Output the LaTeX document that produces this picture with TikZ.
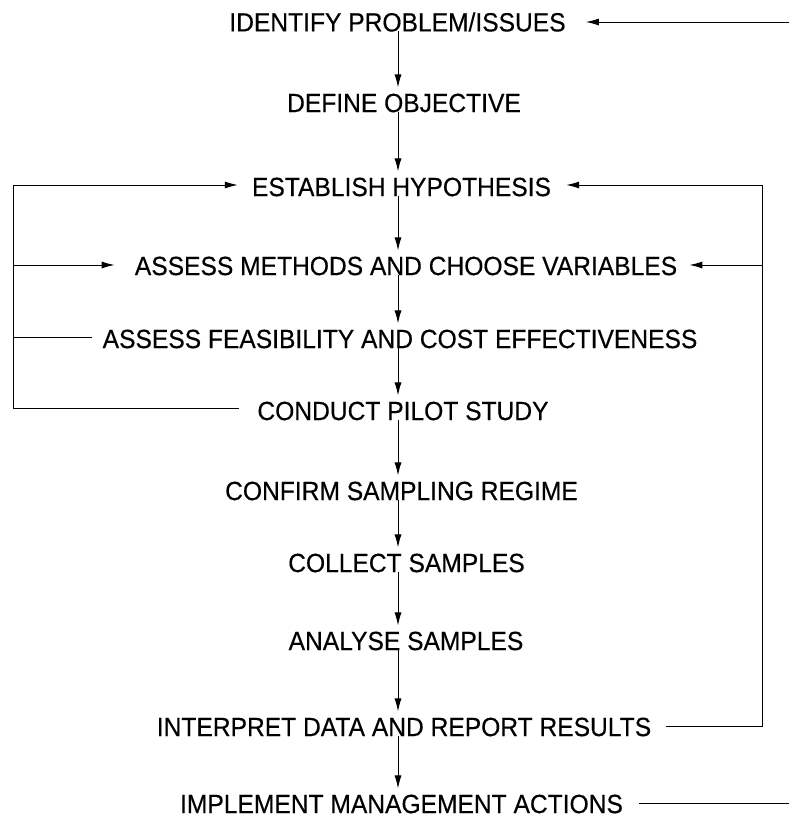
\documentclass[tikz,border=0pt]{standalone}
\usepackage{fontspec}
\setmainfont{Liberation Sans}
\newfontfamily\labelfont[FakeBold=0.4]{Liberation Sans}
\usetikzlibrary{arrows.meta}
\newcommand{\tallT}[1]{\scalebox{1}[1.07]{#1}}
\begin{document}
\begin{tikzpicture}[x=1pt,y=-1pt,
  lbl/.style={inner sep=0pt,font=\labelfont\fontsize{24.6}{28}\selectfont},
  arr/.style={-{Latex[length=13pt,width=7pt]},line width=1pt},
  ln/.style={line width=1pt}]
\useasboundingbox (0,0) rectangle (789,819);
\node[lbl] (n1) at (397.5,22) {\tallT{IDENTIFY PROBLEM/ISSUES}};
\node[lbl] (n2) at (404,103) {\tallT{DEFINE OBJECTIVE}};
\node[lbl] (n3) at (401.5,187) {\tallT{ESTABLISH HYPOTHESIS}};
\node[lbl] (n4) at (406,266) {\tallT{ASSESS METHODS AND CHOOSE VARIABLES}};
\node[lbl] (n5) at (400,339) {\tallT{ASSESS FEASIBILITY AND COST EFFECTIVENESS}};
\node[lbl] (n6) at (403,411) {\tallT{CONDUCT PILOT STUDY}};
\node[lbl] (n7) at (401.5,491) {\tallT{CONFIRM SAMPLING REGIME}};
\node[lbl] (n8) at (406.5,563) {\tallT{COLLECT SAMPLES}};
\node[lbl] (n9) at (406,641) {\tallT{ANALYSE SAMPLES}};
\node[lbl] (n10) at (404,727) {\tallT{INTERPRET DATA AND REPORT RESULTS}};
\node[lbl] (n11) at (401.5,804) {\tallT{IMPLEMENT MANAGEMENT ACTIONS}};
% main vertical chain
\foreach \a/\b in {n1/n2,n2/n3,n3/n4,n4/n5,n5/n6,n6/n7,n7/n8,n8/n9,n9/n10,n10/n11}
  \draw[arr] ([yshift=1pt]398,0 |- \a.south) -- ([yshift=6pt]398,0 |- \b.north);
% right loop
\coordinate (rtop) at (762,185);
\coordinate (rmid) at (762,265);
\coordinate (rbot) at (762,726);
\draw[ln] ([xshift=15pt]n10.east |- rbot) -- (rbot) -- (rtop);
\draw[arr] (rtop) -- ([xshift=15pt]n3.east |- rtop);
\draw[arr] (rmid) -- ([xshift=12pt]n4.east |- rmid);
% left loop
\coordinate (ltop) at (13,185);
\coordinate (lmid) at (13,265);
\coordinate (lfea) at (13,337);
\coordinate (lbot) at (13,408);
\draw[ln] ([xshift=-18pt]n6.west |- lbot) -- (lbot) -- (ltop);
\draw[arr] (ltop) -- ([xshift=-14pt]n3.west |- ltop);
\draw[arr] (lmid) -- ([xshift=-20pt]n4.west |- lmid);
\draw[ln] (lfea) -- ([xshift=-10pt]n5.west |- lfea);
% top and bottom edge connectors
\coordinate (tr) at (789,22);
\coordinate (br) at (789,803);
\draw[arr] (tr) -- ([xshift=20pt]n1.east |- tr);
\draw[ln] ([xshift=16pt]n11.east |- br) -- (br);
\end{tikzpicture}
\end{document}
